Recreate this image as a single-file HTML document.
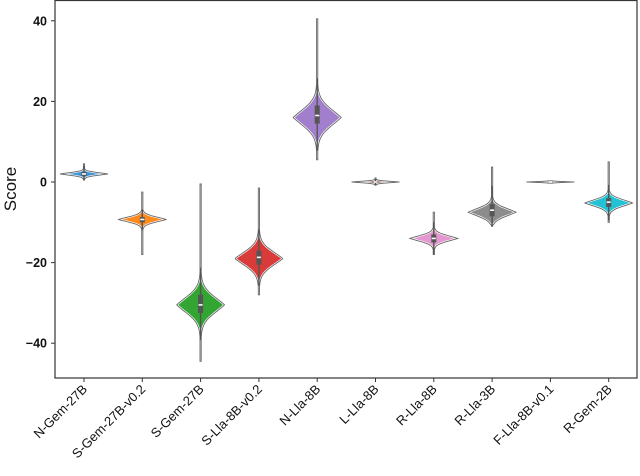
<!DOCTYPE html>
<html><head><meta charset="utf-8"><style>
html,body{margin:0;padding:0;background:#fff;}
svg text{font-family:"Liberation Sans",sans-serif;fill:#111;}
</style></head><body>
<svg id="chart" width="640" height="471" viewBox="0 0 640 471" xmlns="http://www.w3.org/2000/svg"></svg>
<script>
const categories=["N-Gem-27B","S-Gem-27B-v0.2","S-Gem-27B","S-Lla-8B-v0.2","N-Lla-8B","L-Lla-8B","R-Lla-8B","R-Lla-3B","F-Lla-8B-v0.1","R-Gem-2B"];
const modes=[2,-9.3,-30.5,-19,16,0,-14,-7.5,0,-5.2];
const mins=[0.5,-18,-44.5,-28,5.5,-0.8,-18,-11,-0.3,-10];
const maxs=[4.5,-2.5,-0.5,-1.5,40.5,1,-7.5,3.7,0.3,5];
const spreads=[0.4,0.75,2.4,2.1,2.5,0.22,0.85,1.2,0.12,1.0];
const medians=[2,-9.3,-30.5,-18.7,16.5,0,-14,-7,0,-5];
const q1s=[1.5,-10,-32.5,-20.5,14.5,-0.2,-15,-8.5,-0.1,-6.2];
const q3s=[2.5,-8.7,-28,-17,19,0.2,-13,-5.5,0.1,-4];
const colors=["#3c95d6","#ff8a1e","#32a532","#d93a3a","#a27fcc","#9a6a5a","#e697d1","#8c8c8c","#bcbd22","#22c1d3"];
const yTicks=[40,20,0,-20,-40];

const svg=document.getElementById('chart');
const NS="http://www.w3.org/2000/svg";
const L=55,R=637,T=0,B=378;
const y=v=>182-v*4.03;
const x=i=>84+i*58.3;
function mk(tag,attrs,parent){const e=document.createElementNS(NS,tag);for(const k in attrs)e.setAttribute(k,attrs[k]);(parent||svg).appendChild(e);return e;}

const frame=mk('rect',{x:L,y:T+0.5,width:R-L,height:B-T-0.5,fill:'none',stroke:'#333','stroke-width':1.2});



yTicks.forEach(v=>{
  const t=mk('line',{x1:L-4,x2:L,y1:y(v),y2:y(v),stroke:'#333'});
  
  
  const lb=mk('text',{x:L-8,y:y(v)+4.5,'text-anchor':'end','font-size':12.5,'font-weight':'bold'});
  lb.textContent=(v<0?'\u2212'+(-v):String(v));
  
  
});
const yt=mk('text',{x:0,y:0,transform:'translate(16,189) rotate(-90)','text-anchor':'middle','font-size':17});
yt.textContent='Score';



categories.forEach((c,i)=>{
  const cx=x(i),W=24,m=modes[i],s=spreads[i],lo=mins[i],hi=maxs[i];
  const N=160,left=[],right=[];
  for(let k=0;k<=N;k++){
    const v=hi-(hi-lo)*k/N;
    const d=v-m;
    let w=0.5*Math.exp(-0.5*(d/s)*(d/s))+0.5*Math.exp(-Math.abs(d)/(1.1*s));
    const edge=Math.min(v-lo,hi-v)/(hi-lo);
    w*=Math.min(1,edge*25);
    w=Math.max(w*W,0.6);
    right.push([cx+w,y(v)]);left.push([cx-w,y(v)]);
  }
  const pts=right.concat(left.reverse()).map(p=>p[0].toFixed(2)+','+p[1].toFixed(2)).join(' ');
  const g=mk('g',{});
  
  
  mk('polygon',{points:pts,fill:colors[i],stroke:'#fff','stroke-width':2.2},g);
  mk('polygon',{points:pts,fill:'none',stroke:'#666','stroke-width':0.9},g);
  mk('line',{x1:cx,x2:cx,y1:y(Math.max(lo,q1s[i]-1.5*(q3s[i]-q1s[i]))),y2:y(Math.min(hi,q3s[i]+1.5*(q3s[i]-q1s[i]))),stroke:'#555','stroke-width':1.4},g);
  mk('rect',{x:cx-2.5,y:y(q3s[i]),width:5,height:Math.max(1,y(q1s[i])-y(q3s[i])),fill:'#555'},g);
  mk('rect',{x:cx-2,y:y(medians[i])-0.8,width:4,height:1.6,fill:'#fff'},g);
  const t=mk('line',{x1:cx,x2:cx,y1:B,y2:B+4,stroke:'#333'});
  
  
  const lb=mk('text',{x:0,y:0,transform:`translate(${cx+4},${B+12}) rotate(-45)`,'text-anchor':'end','font-size':13});
  lb.textContent=c;
  
  
});
</script>
</body></html>
